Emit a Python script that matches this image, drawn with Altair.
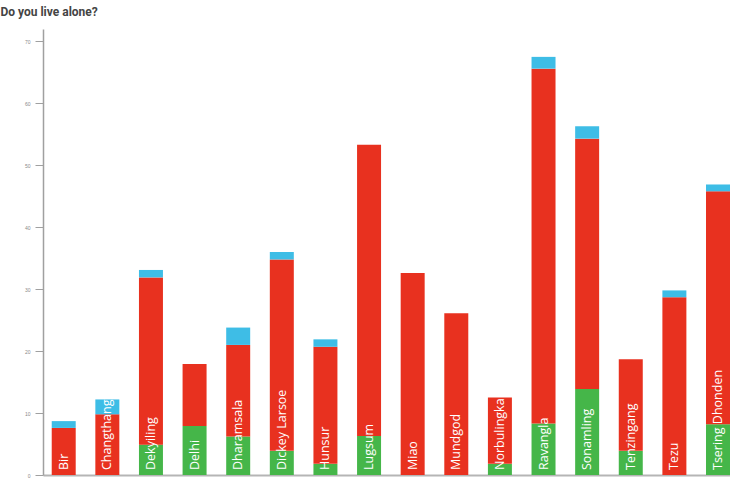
import altair as alt
import pandas as pd

# Survey sites, left to right
places = ["Bir", "Changthang", "Dekyiling", "Delhi", "Dharamsala", "Dickey Larsoe",
          "Hunsur", "Lugsum", "Miao", "Mundgod", "Norbulingka", "Ravangla",
          "Sonamling", "Tenzingang", "Tezu", "Tsering Dhonden"]

# Answers per site: yes (bottom), no (middle), no answer (top)
yes_counts = [0, 0, 4.9, 7.9, 6.2, 3.9, 1.8, 6.3, 0, 0, 1.8, 8.3, 13.9, 3.9, 0, 8.2]
no_counts = [7.6, 9.8, 27.0, 10.0, 14.8, 30.9, 18.9, 47.0, 32.6, 26.1, 10.7, 57.3,
             40.4, 14.8, 28.7, 37.6]
na_counts = [1.1, 2.4, 1.2, 0, 2.8, 1.2, 1.2, 0, 0, 0, 0, 1.9, 2.0, 0, 1.1, 1.1]

y_ticks = list(range(0, 75, 5))

series = ["Yes", "No", "No answer"]
colors = ["#45B649", "#E8311F", "#3EBDE6"]

rows = []
for i, p in enumerate(places):
    for k, vals in enumerate([yes_counts, no_counts, na_counts]):
        rows.append({"place": p, "answer": series[k], "order": k, "count": vals[i]})
df = pd.DataFrame(rows)
labels = pd.DataFrame({"place": places})

x_enc = alt.X("place:N", sort=places,
              scale=alt.Scale(paddingInner=0.45, paddingOuter=0.1, align=1),
              axis=alt.Axis(title=None, labels=False, ticks=False, domain=True,
                            domainColor="#b5b5b5", domainWidth=2))

bars = alt.Chart(df).mark_bar().encode(
    x=x_enc,
    y=alt.Y("count:Q", stack="zero",
            scale=alt.Scale(domain=[0, 72], nice=False),
            axis=alt.Axis(title=None, values=y_ticks, grid=False,
                          labelFontSize=5, labelColor="#8a8a8a", labelPadding=5,
                          tickSize=8, tickColor="#a0a0a0", tickWidth=1,
                          domainColor="#a0a0a0", domainWidth=1.5)),
    color=alt.Color("answer:N", scale=alt.Scale(domain=series, range=colors), legend=None),
    order=alt.Order("order:Q"),
)

text = alt.Chart(labels).mark_text(
    angle=270, align="left", baseline="middle", dx=5,
    font="Open Sans", fontSize=12.5, color="white"
).encode(
    x=alt.X("place:N", sort=places),
    y=alt.datum(0),
    text="place:N",
)

chart = (bars + text).properties(
    width=687, height=446,
    padding={"left": 43, "top": 29, "right": 0, "bottom": 7},
    autosize=alt.AutoSizeParams(type="none"),
    title=alt.Title("Do you live alone?", anchor="start", font="Roboto",
                    fontSize=12, fontWeight="bold", color="#444444",
                    dx=-24, offset=10),
).configure_view(stroke=None)

chart.save("out.html", embed_options={"renderer": "svg", "actions": False})
